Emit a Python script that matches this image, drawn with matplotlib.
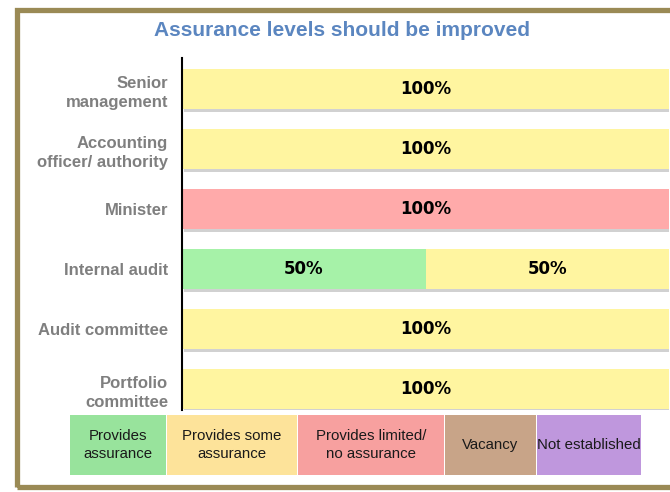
import matplotlib
matplotlib.use('Agg')
import matplotlib.pyplot as plt
import matplotlib.patheffects as pe
from matplotlib.patches import Rectangle

plt.rcParams['font.family'] = ['Liberation Sans', 'DejaVu Sans']

# Data
categories = ['Senior\nmanagement', 'Accounting\nofficer/ authority', 'Minister',
              'Internal audit', 'Audit committee', 'Portfolio\ncommittee']
provides = [0, 0, 0, 50, 0, 0]
some = [100, 100, 0, 50, 100, 100]
limited = [0, 0, 100, 0, 0, 0]

legend_labels = ['Provides\nassurance', 'Provides some\nassurance', 'Provides limited/\nno assurance',
                 'Vacancy', 'Not established']
legend_colors = ['#98e39c', '#fde39a', '#f7a09f', '#c8a488', '#bf97dd']
bar_colors = ['#a6f2a8', '#fff5a0', '#ffaaaa']

fig = plt.figure(figsize=(6.7, 4.92), dpi=100)
ax = fig.add_axes([182 / 670, 1 - 410 / 492, 487 / 670, 352 / 492])

shadow = [pe.SimplePatchShadow(offset=(1.5, -2.5), shadow_rgbFace='#999999', alpha=0.45), pe.Normal()]
y = list(range(len(categories)))
left = [0] * len(categories)
for vals, col in zip([provides, some, limited], bar_colors):
    bars = ax.barh(y, vals, left=left, height=0.66, color=col, zorder=2)
    for b, v, l in zip(bars, vals, left):
        b.set_path_effects(shadow)
        if v > 0:
            ax.text(l + v / 2, b.get_y() + b.get_height() / 2, f'{v}%', ha='center', va='center',
                    fontsize=12, fontweight='bold', family=['DejaVu Sans'], color='black', zorder=3)
    left = [a + b for a, b in zip(left, vals)]

ax.set_xlim(0, 100)
ax.set_ylim(5.35, -0.517)
ax.set_yticks(y)
ax.set_yticklabels(categories, fontsize=12, fontweight='bold', color='#7f7f7f', linespacing=1.35)
ax.tick_params(axis='y', length=0, pad=10)
ax.set_xticks([])
for s in ['top', 'right', 'bottom']:
    ax.spines[s].set_visible(False)
ax.spines['left'].set_linewidth(1.5)
ax.spines['left'].set_color('black')

fig.text(342 / 670, 1 - 30 / 492, 'Assurance levels should be improved', ha='center', va='center',
         fontsize=15, fontweight='bold', color='#5b86c0')

# Legend boxes
edges = [70, 167, 298, 445, 537, 642]
for i, (lab, col) in enumerate(zip(legend_labels, legend_colors)):
    x0, x1 = edges[i], edges[i + 1] - 1
    fig.patches.append(Rectangle((x0 / 670, 1 - 475 / 492), (x1 - x0) / 670, 60 / 492,
                                 transform=fig.transFigure, facecolor=col, edgecolor='none'))
    fig.text((x0 + x1) / 2 / 670, 1 - 445 / 492, lab, ha='center', va='center', fontsize=10.8,
             color='#1a1a1a', linespacing=1.45)

# Frame
fig.patches.append(Rectangle((17 / 670, 1 - 487 / 492), 700 / 670, 477 / 492, transform=fig.transFigure,
                             facecolor='none', edgecolor='#9a8a55', linewidth=3.8))

fig.savefig('out.png', dpi=100)
